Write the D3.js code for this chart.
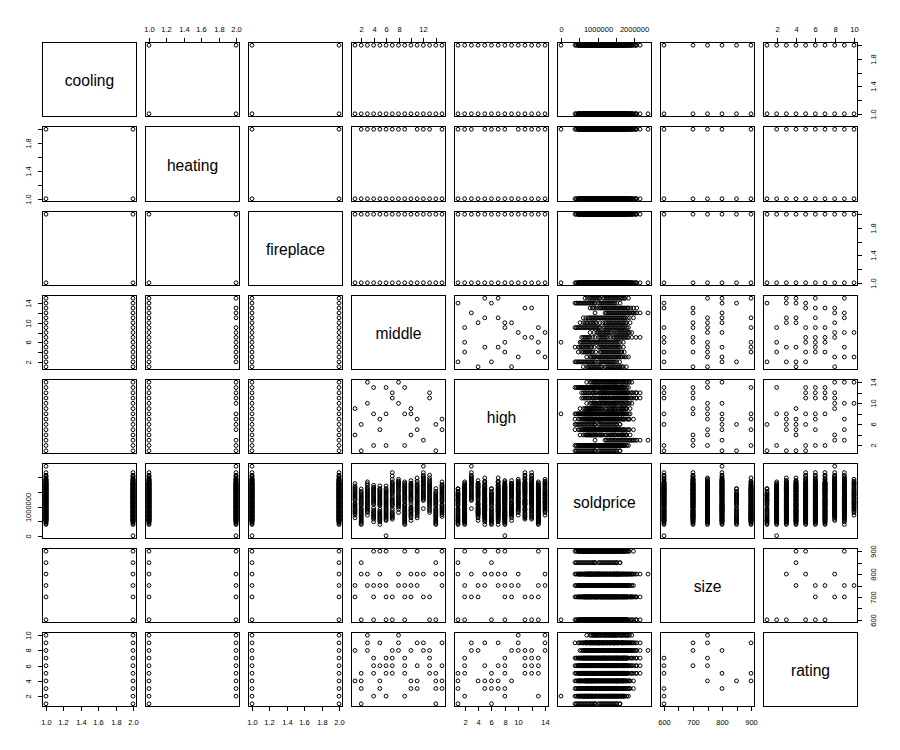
<!DOCTYPE html>
<html><head><meta charset="utf-8">
<script src="https://cdn.jsdelivr.net/npm/d3@7/dist/d3.min.js"></script>
<style>html,body{margin:0;padding:0;background:#fff}</style>
</head><body>
<svg id="chart" width="900" height="750" xmlns="http://www.w3.org/2000/svg"></svg>
<script>
// ---------------- data ----------------
const variables = ["cooling","heating","fireplace","middle","high","soldprice","size","rating"];

// neighbourhood profiles: [middle, high, size, rating]
const profiles = [
  [2,1,600,1],[2,1,800,3],[2,1,850,4],[2,1,600,5],[2,6,600,3],[2,6,800,5],[2,6,850,4],[2,6,600,1],
  [14,1,600,5],[14,6,600,1],[14,1,850,4],[14,6,800,3],
  [3,10,750,9],[3,14,750,10],[3,10,800,8],[3,14,800,8],
  [8,14,750,9],[8,10,750,10],[8,14,800,8],[8,10,800,8],
  [4,2,600,2],[4,8,700,6],[4,13,750,7],[4,2,900,5],[4,8,600,6],
  [6,8,600,2],[6,13,700,6],[6,2,750,7],[6,8,900,5],[6,13,600,5],
  [9,13,600,2],[9,2,700,6],[9,8,750,7],[9,13,900,5],[9,2,600,7],
  [5,5,750,4],[5,7,750,6],[5,5,800,3],[5,7,900,9],
  [11,7,750,9],[11,5,900,4],[11,7,800,3],[11,5,750,6],
  [15,5,900,9],[15,7,750,4],[15,5,800,3],[15,7,900,4],[15,5,750,6],
  [7,11,600,5],[7,12,600,7],[7,11,700,8],[7,12,700,6],
  [13,12,600,5],[13,11,600,7],[13,12,700,8],[13,11,600,6],
  [1,4,700,8],[1,9,750,4],[1,4,750,4],[1,9,700,8],
  [10,8,800,3],[10,4,700,8],[10,9,750,4],[10,9,700,8],
  [12,3,700,8],[12,3,700,9],[12,3,800,8]
];

// [cooling, heating, fireplace] combinations seen with every profile
const flagVariants = [[1,1,1],[1,2,2],[2,1,2],[2,2,1]];
// heating = 2 never occurs with these values
const heating2AbsentMiddle = [1,10,14];
const heating2AbsentSize = [850];
const heating2AbsentRating = [1];

// sold prices (thousands) seen for each middle school 1..15
const soldByMiddle = [
  [612,705,748,779,821,858,896,934,972,1013,1049,1086,1117,1207,1244,1281,1318,1352,1391,1428,1466,1503,1547,1582,1619,1661,1704,1788],
  [384,421,458,497,534,572,611,647,684,722,759,797,836,872,909,935,1024,1061,1098,1136,1174,1211,1249,1287,1324,1362,1400,1437,1476,1521,1604],
  [703,796,832,871,907,944,982,1019,1057,1094,1131,1169,1206,1244,1281,1319,1356,1394,1431,1469,1506,1544,1581,1619,1660,1727,1783,1846],
  [475,566,614,651,689,727,764,802,839,877,952,1069,1107,1144,1182,1219,1257,1294,1332,1369,1407,1444,1482,1519,1557,1594,1632,1662,1729],
  [384,476,513,551,588,626,663,701,738,776,813,841,905,1024,1062,1099,1137,1174,1212,1249,1287,1324,1362,1399,1437,1474,1512,1549,1587,1616,1708],
  [521,558,596,633,671,708,746,783,821,858,896,933,971,1008,1046,1083,1121,1158,1196,1233,1271,1308,1346,1383,1421,1458,1496,1533,1571,1616,1706],
  [566,614,652,689,727,764,796,868,932,1024,1061,1099,1136,1174,1211,1249,1296,1361,1435,1472,1510,1547,1585,1622,1660,1697,1735,1772,1810,1845,1937,2046,2164],
  [795,904,978,1016,1053,1091,1128,1166,1203,1241,1278,1316,1353,1388,1452,1508,1546,1583,1621,1658,1696,1733,1771,1808,1846,1872,1936],
  [384,421,459,496,534,571,609,646,684,721,759,796,834,871,909,946,984,1021,1059,1068,1161,1198,1236,1273,1311,1348,1386,1423,1461,1498,1536,1573,1611,1648,1686,1708,1754,1800,1846],
  [521,612,660,700,735,790,830,870,905,950,978,1069,1142,1206,1244,1281,1319,1356,1394,1431,1469,1506,1544,1581,1619,1656,1694,1731,1769,1799,1890],
  [610,680,745,786,823,861,898,936,973,1011,1048,1086,1123,1161,1198,1236,1273,1311,1348,1386,1423,1461,1498,1536,1573,1611,1648,1686,1723,1753,1817,1872,1982],
  [932,1205,1243,1280,1318,1355,1393,1430,1468,1505,1543,1580,1618,1655,1693,1730,1768,1805,1843,1880,1918,1955,1982,2028,2074,2164],
  [795,858,900,962,1023,1069,1107,1144,1182,1219,1257,1294,1332,1369,1407,1444,1482,1519,1557,1594,1632,1669,1707,1744,1782,1819,1845,1909,1982,2073],
  [384,422,460,497,535,572,610,647,685,722,760,797,835,872,910,932,1024,1062,1099,1137,1174,1212,1249,1287,1324,1362,1399,1437,1474,1525,1617],
  [658,721,777,814,852,889,927,964,1002,1039,1068,1161,1198,1236,1273,1311,1348,1386,1423,1461,1498,1536,1573,1611,1648,1686,1723,1753,1846]
];

// single sales: [cooling, heating, fireplace, middle, high, soldprice, size, rating]
const singleSales = [
  [2,2,1,6,8,0,600,2],
  [1,2,1,12,3,2380000,800,8]
];

// tick values and labels (horizontal axis / vertical axis)
const binaryTicks = [1.0,1.2,1.4,1.6,1.8,2.0];
const binaryLabelsH = ["1.0","1.2","1.4","1.6","1.8","2.0"];
const binaryLabelsV = ["1.0","","1.4","","1.8",""];
const middleTicks = [2,4,6,8,10,12,14];
const middleLabelsH = ["2","4","6","8","","12",""];
const middleLabelsV = ["2","","6","","10","","14"];
const highTicks = [2,4,6,8,10,12,14];
const highLabelsH = ["2","4","6","8","10","","14"];
const highLabelsV = ["2","","6","","10","","14"];
const priceTicks = [0,500000,1000000,1500000,2000000];
const priceLabelsH = ["0","","1000000","","2000000"];
const priceLabelsV = ["0","","1000000","",""];
const sizeTicks = [600,650,700,750,800,850,900];
const sizeLabels = ["600","","700","","800","","900"];
const ratingTicks = [2,4,6,8,10];
const ratingLabels = ["2","4","6","8","10"];

// ---------------- build the table ----------------
const rows = [];
profiles.forEach(([m,h,s,r]) => {
  const noHeat2 = heating2AbsentMiddle.includes(m) || heating2AbsentSize.includes(s) || heating2AbsentRating.includes(r);
  flagVariants.forEach(([c,ht,f]) => {
    soldByMiddle[m-1].forEach(p => {
      rows.push({cooling:c, heating: noHeat2 ? 1 : ht, fireplace:f, middle:m, high:h, soldprice:p*1000, size:s, rating:r});
    });
  });
});
singleSales.forEach(([c,ht,f,m,h,p,s,r]) => rows.push({cooling:c, heating:ht, fireplace:f, middle:m, high:h, soldprice:p, size:s, rating:r}));

const axisSpec = {
  cooling:{t:binaryTicks,h:binaryLabelsH,v:binaryLabelsV},
  heating:{t:binaryTicks,h:binaryLabelsH,v:binaryLabelsV},
  fireplace:{t:binaryTicks,h:binaryLabelsH,v:binaryLabelsV},
  middle:{t:middleTicks,h:middleLabelsH,v:middleLabelsV},
  high:{t:highTicks,h:highLabelsH,v:highLabelsV},
  soldprice:{t:priceTicks,h:priceLabelsH,v:priceLabelsV},
  size:{t:sizeTicks,h:sizeLabels,v:sizeLabels},
  rating:{t:ratingTicks,h:ratingLabels,v:ratingLabels}
};

// ---------------- layout ----------------
const svg = d3.select("#chart");
const N = variables.length;
const font = "'Liberation Sans', Arial, Helvetica, sans-serif";
const X0 = j => 42.5 + 103*j;
const X1 = j => X0(j) + 94;
const Y0 = i => Math.round(42 + 84.29*i) + 0.5;
const Y1 = i => Math.round(42 + 84.29*i + 74.3) + 0.5;

const domains = {};
variables.forEach(v => {
  const e = d3.extent(rows, d => d[v]);
  const pad = 0.04*(e[1]-e[0]);
  domains[v] = [e[0]-pad, e[1]+pad];
});
const xScale = (v,j) => d3.scaleLinear().domain(domains[v]).range([X0(j), X1(j)]);
const yScale = (v,i) => d3.scaleLinear().domain(domains[v]).range([Y1(i), Y0(i)]);

const R = 1.9;
for (let i = 0; i < N; i++) {
  for (let j = 0; j < N; j++) {
    const g = svg.append("g");
    g.append("rect").attr("x",X0(j)).attr("y",Y0(i)).attr("width",X1(j)-X0(j)).attr("height",Y1(i)-Y0(i))
      .attr("fill","none").attr("stroke","#000").attr("stroke-width",1).attr("shape-rendering","crispEdges");
    const vx = variables[j], vy = variables[i];
    const sx = xScale(vx,j), sy = yScale(vy,i);
    if (i === j) {
      g.append("text").attr("x",(X0(j)+X1(j))/2).attr("y",(Y0(i)+Y1(i))/2+1)
        .attr("text-anchor","middle").attr("dominant-baseline","central")
        .attr("font-family",font).attr("font-size","15.6px").attr("fill","#000").text(vx);
    } else {
      const seen = new Set();
      const pts = [];
      rows.forEach(d => {
        const px = sx(d[vx]), py = sy(d[vy]);
        const k = Math.round(px*4) + "_" + Math.round(py*4);
        if (!seen.has(k)) { seen.add(k); pts.push([px,py]); }
      });
      g.selectAll("circle").data(pts).enter().append("circle")
        .attr("cx",d=>d[0]).attr("cy",d=>d[1]).attr("r",R)
        .attr("fill","none").attr("stroke","#000").attr("stroke-width",1);
    }
    // axes (R pairs convention)
    const tickLen = 4.5;
    const drawTicks = (side, v, scale) => {
      const spec = axisSpec[v];
      const labs = (side === "top" || side === "bottom") ? spec.h : spec.v;
      spec.t.forEach((t, k) => {
        const p = Math.round(scale(t)) + 0.5;
        if (side === "top") {
          g.append("line").attr("x1",p).attr("x2",p).attr("y1",Y0(i)).attr("y2",Y0(i)-tickLen);
          if (labs[k]) g.append("text").attr("x",p).attr("y",Y0(i)-13).attr("class","tl").attr("text-anchor","middle").attr("dominant-baseline","central").text(labs[k]);
        } else if (side === "bottom") {
          g.append("line").attr("x1",p).attr("x2",p).attr("y1",Y1(i)).attr("y2",Y1(i)+tickLen);
          if (labs[k]) g.append("text").attr("x",p).attr("y",Y1(i)+15.5).attr("class","tl").attr("text-anchor","middle").attr("dominant-baseline","central").text(labs[k]);
        } else if (side === "left") {
          g.append("line").attr("y1",p).attr("y2",p).attr("x1",X0(j)).attr("x2",X0(j)-tickLen);
          const lx = X0(j)-14;
          if (labs[k]) g.append("text").attr("x",lx).attr("y",p).attr("class","tl").attr("text-anchor","middle").attr("dominant-baseline","central").attr("transform",`rotate(-90,${lx},${p})`).text(labs[k]);
        } else {
          g.append("line").attr("y1",p).attr("y2",p).attr("x1",X1(j)).attr("x2",X1(j)+tickLen);
          const lx = X1(j)+15.5;
          if (labs[k]) g.append("text").attr("x",lx).attr("y",p).attr("class","tl").attr("text-anchor","middle").attr("dominant-baseline","central").attr("transform",`rotate(-90,${lx},${p})`).text(labs[k]);
        }
      });
    };
    if (i === 0 && (j+1) % 2 === 0) drawTicks("top", vx, sx);
    if (i === N-1 && (j+1) % 2 === 1) drawTicks("bottom", vx, sx);
    if (j === 0 && (i+1) % 2 === 0) drawTicks("left", vy, sy);
    if (j === N-1 && (i+1) % 2 === 1) drawTicks("right", vy, sy);
  }
}
svg.selectAll("line").attr("stroke","#000").attr("stroke-width",1).attr("shape-rendering","crispEdges");
svg.selectAll("text.tl").attr("font-family",font).attr("font-size","7.5px").attr("fill","#000");
</script>
</body></html>
